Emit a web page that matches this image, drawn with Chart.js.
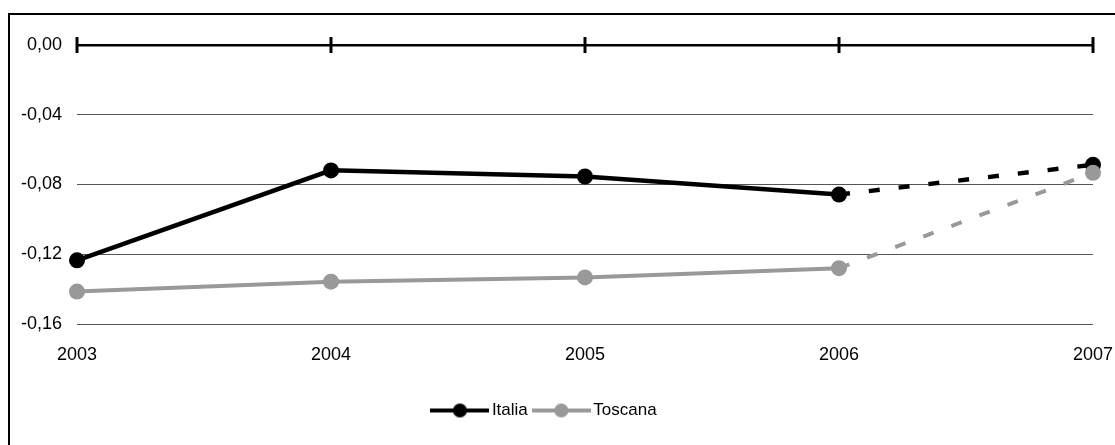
<!DOCTYPE html>
<html lang="it">
<head>
<meta charset="utf-8">
<title>Italia - Toscana 2003-2007</title>
<script src="https://cdn.jsdelivr.net/npm/chart.js@4/dist/chart.umd.min.js"></script>
<style>
  html, body { margin: 0; padding: 0; background: #fff; }
  #wrap { position: relative; width: 1115px; height: 445px; overflow: hidden; }
  #frame {
    position: absolute; left: 8px; top: 13px; width: 1200px; height: 500px;
    border-left: 2px solid #000; border-top: 2px solid #000; pointer-events: none;
  }
</style>
</head>
<body>
<div id="wrap">
  <canvas id="grafico" width="1115" height="445"></canvas>
  <div id="frame"></div>
</div>
<script>
// anni e valori delle due serie
const anni = ["2003", "2004", "2005", "2006", "2007"];
const italia = [-0.1235, -0.0719, -0.0754, -0.0858, -0.0687];
const toscana = [-0.1414, -0.1357, -0.1333, -0.128, -0.0733];
// l'ultimo anno è una stima: tratto tratteggiato
const stima = [false, false, false, false, true];
const yTicks = [0, -0.04, -0.08, -0.12, -0.16];

const NERO = "#000000";
const GRIGIO = "#999999";

Chart.defaults.font.family = '"Liberation Sans Narrow", "Liberation Sans", Arial, sans-serif';
Chart.defaults.font.size = 18;
Chart.defaults.color = "#000";

// simbolo della legenda: linea con pallino
function simbolo(colore) {
  const c = document.createElement("canvas");
  c.width = 59;
  c.height = 18;
  const g = c.getContext("2d");
  g.strokeStyle = colore;
  g.lineWidth = 4;
  g.beginPath();
  g.moveTo(0, 9);
  g.lineTo(59, 9);
  g.stroke();
  g.fillStyle = colore;
  g.beginPath();
  g.arc(29.5, 9, 7, 0, Math.PI * 2);
  g.fill();
  return c;
}
const simboli = [simbolo(NERO), simbolo(GRIGIO)];

const tratteggio = (ctx) => (stima[ctx.p1DataIndex] ? [11, 19] : undefined);

// trattini verticali sulla linea dello zero
const lineaZero = {
  id: "lineaZero",
  beforeDatasetsDraw(chart) {
    const { ctx, scales } = chart;
    const y0 = scales.y.getPixelForValue(0);
    ctx.save();
    ctx.strokeStyle = "#000";
    ctx.lineWidth = 3;
    anni.forEach((a, i) => {
      const x = scales.x.getPixelForValue(i);
      ctx.beginPath();
      ctx.moveTo(x, y0 - 8);
      ctx.lineTo(x, y0 + 8);
      ctx.stroke();
    });
    ctx.restore();
  },
};

new Chart(document.getElementById("grafico").getContext("2d"), {
  type: "line",
  data: {
    labels: anni,
    datasets: [
      {
        label: "Italia",
        data: italia,
        borderColor: NERO,
        backgroundColor: NERO,
        borderWidth: 4.5,
        pointRadius: 8,
        pointBorderWidth: 0,
        pointBackgroundColor: NERO,
        tension: 0,
        order: 2,
        segment: { borderDash: tratteggio },
      },
      {
        label: "Toscana",
        data: toscana,
        borderColor: GRIGIO,
        backgroundColor: GRIGIO,
        borderWidth: 4,
        pointRadius: 8,
        pointBorderWidth: 0,
        pointBackgroundColor: GRIGIO,
        tension: 0,
        order: 1,
        segment: { borderDash: tratteggio },
      },
    ],
  },
  options: {
    responsive: false,
    animation: false,
    layout: { padding: { left: 0, right: 22, top: 45, bottom: 16 } },
    plugins: {
      tooltip: { enabled: false },
      legend: {
        position: "bottom",
        labels: {
          usePointStyle: true,
          pointStyleWidth: 47,
          padding: 10,
          font: { size: 17 },
          sort: (a, b) => a.datasetIndex - b.datasetIndex,
          generateLabels(chart) {
            const items = Chart.defaults.plugins.legend.labels.generateLabels(chart);
            items.forEach((it) => (it.pointStyle = simboli[it.datasetIndex]));
            return items;
          },
        },
      },
    },
    scales: {
      x: {
        offset: false,
        grid: { display: false },
        border: { display: false },
        ticks: { padding: 12, maxRotation: 0 },
        afterFit(scale) {
          scale.height = 68;
          // l'etichetta 2007 sta nel margine destro, niente spazio extra
          scale.paddingLeft = 0;
          scale.paddingRight = 0;
        },
      },
      y: {
        min: -0.16,
        max: 0,
        border: { display: false },
        grid: {
          drawTicks: false,
          color: (ctx) => (ctx.tick && ctx.tick.value === 0 ? "#000" : "#555"),
          lineWidth: (ctx) => (ctx.tick && ctx.tick.value === 0 ? 2.5 : 1),
        },
        ticks: {
          padding: 15,
          callback: (v) => v.toFixed(2).replace(".", ","),
        },
        afterBuildTicks(scale) {
          scale.ticks = yTicks.slice().sort((a, b) => a - b).map((v) => ({ value: v }));
        },
        afterFit(scale) {
          scale.width = 77;
        },
      },
    },
  },
  plugins: [lineaZero],
});
</script>
</body>
</html>
